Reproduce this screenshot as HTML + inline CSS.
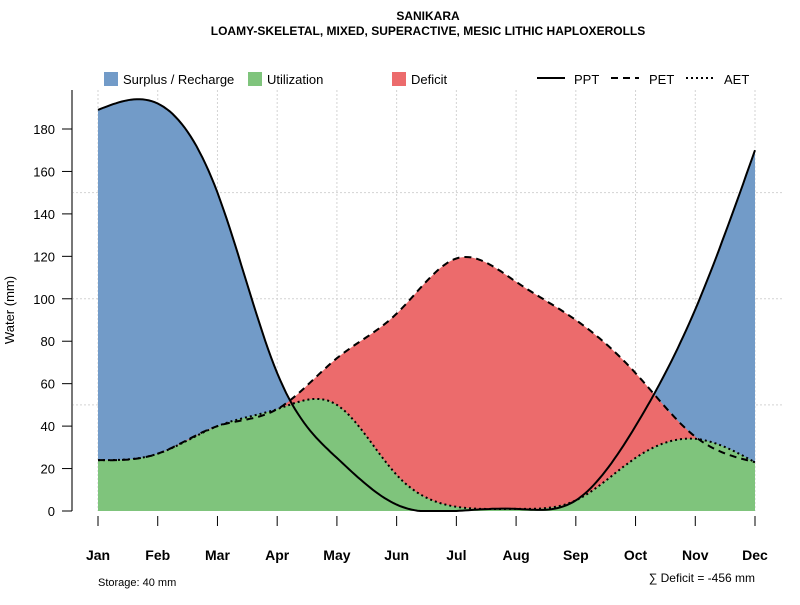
<!DOCTYPE html>
<html><head><meta charset="utf-8"><style>
body{margin:0;background:#fff;}
text{font-family:"Liberation Sans",sans-serif;}
</style></head><body>
<svg id="c" width="800" height="600" xmlns="http://www.w3.org/2000/svg">
<text x="428" y="20" text-anchor="middle" font-size="12" font-weight="bold">SANIKARA</text>
<text x="428" y="35" text-anchor="middle" font-size="12" font-weight="bold">LOAMY-SKELETAL, MIXED, SUPERACTIVE, MESIC LITHIC HAPLOXEROLLS</text>
<g id="legend">
<rect x="104" y="72" width="14" height="14" fill="#729bc8"/>
<text x="123" y="84" font-size="13">Surplus / Recharge</text>
<rect x="248" y="72" width="14" height="14" fill="#7fc47c"/>
<text x="267" y="84" font-size="13">Utilization</text>
<rect x="392" y="72" width="14" height="14" fill="#ec6b6c"/>
<text x="411" y="84" font-size="13">Deficit</text>
<line x1="537" y1="78" x2="565" y2="78" stroke="#000" stroke-width="2"/>
<text x="574" y="84" font-size="13">PPT</text>
<line x1="611" y1="78" x2="639" y2="78" stroke="#000" stroke-width="2" stroke-dasharray="7,5"/>
<text x="649" y="84" font-size="13">PET</text>
<line x1="686" y1="78" x2="714" y2="78" stroke="#000" stroke-width="2" stroke-dasharray="2,3"/>
<text x="724" y="84" font-size="13">AET</text>
</g>
<text transform="translate(14,310) rotate(-90)" text-anchor="middle" font-size="13">Water (mm)</text>
<text x="98" y="586" font-size="11">Storage: 40 mm</text>
<text x="755" y="582" text-anchor="end" font-size="12">∑ Deficit = -456 mm</text>
</svg>
<script>
const months=["Jan","Feb","Mar","Apr","May","Jun","Jul","Aug","Sep","Oct","Nov","Dec"];
const ppt=[189,192,150,65,25,3,0,1,5,40,95,170];
const pet=[24,27,40,48,72,93,119,108,90,65,35,23];
const aet=[24,27,40,48,50,17,2,1,5,25,34,23];
const yTicks=[0,20,40,60,80,100,120,140,160,180];
const gridY=[50,100,150];
const svg=document.getElementById('c');
const NS='http://www.w3.org/2000/svg';
const X=i=>98+i*(755-98)/11;
const Y=v=>511-v*(382/180);
function mk(t,a){const e=document.createElementNS(NS,t);for(const k in a)e.setAttribute(k,a[k]);svg.appendChild(e);return e;}
function spline(ys){const n=ys.length,h=1;const a=ys.slice(),c=new Array(n).fill(0);
 const al=new Array(n).fill(0),l=new Array(n).fill(1),mu=new Array(n).fill(0),z=new Array(n).fill(0);
 for(let i=1;i<n-1;i++)al[i]=3*(a[i+1]-2*a[i]+a[i-1]);
 for(let i=1;i<n-1;i++){l[i]=4-mu[i-1];mu[i]=1/l[i];z[i]=(al[i]-z[i-1])/l[i];}
 const b=new Array(n).fill(0),d=new Array(n).fill(0);
 for(let j=n-2;j>=0;j--){c[j]=z[j]-mu[j]*c[j+1];b[j]=(a[j+1]-a[j])-(c[j+1]+2*c[j])/3;d[j]=(c[j+1]-c[j])/3;}
 const pts=[];for(let j=0;j<n-1;j++)for(let k=0;k<20;k++){const t=k/20;pts.push([j+t,Math.max(0,a[j]+b[j]*t+c[j]*t*t+d[j]*t*t*t)]);}
 pts.push([n-1,a[n-1]]);return pts;}
const sP=spline(ppt),sE=spline(pet),sA=spline(aet);
const line=p=>p.map((q,i)=>(i?'L':'M')+X(q[0]).toFixed(1)+','+Y(q[1]).toFixed(1)).join('');
const area=p=>line(p)+'L'+X(11)+','+Y(0)+'L'+X(0)+','+Y(0)+'Z';
// grid
months.forEach((m,i)=>{let g=mk('line',{x1:X(i),x2:X(i),y1:90,y2:511,stroke:'#d3d3d3','stroke-dasharray':'2,2'});
});
gridY.forEach(v=>{let g=mk('line',{x1:72,x2:782,y1:Y(v),y2:Y(v),stroke:'#d3d3d3','stroke-dasharray':'2,2'});
});
let e;
e=mk('path',{d:area(sP),fill:'#729bc8'});
e=mk('path',{d:area(sE),fill:'#ec6b6c'});
e=mk('path',{d:area(sA),fill:'#7fc47c'});
e=mk('path',{d:line(sP),fill:'none',stroke:'#000','stroke-width':2});
e=mk('path',{d:line(sE),fill:'none',stroke:'#000','stroke-width':2,'stroke-dasharray':'7,5'});
e=mk('path',{d:line(sA),fill:'none',stroke:'#000','stroke-width':2,'stroke-dasharray':'2,3'});
// y axis
e=mk('line',{x1:72,x2:72,y1:90,y2:511,stroke:'#777','stroke-width':2});
yTicks.forEach(v=>{let t=mk('line',{x1:62,x2:72,y1:Y(v),y2:Y(v),stroke:'#000'});

let l=mk('text',{x:55,y:Y(v)+5,'text-anchor':'end','font-size':13});l.textContent=v;
});
// x axis
months.forEach((m,i)=>{let t=mk('line',{x1:X(i),x2:X(i),y1:516,y2:526,stroke:'#000'});

let l=mk('text',{x:X(i),y:560,'text-anchor':'middle','font-size':14,'font-weight':'bold'});l.textContent=m;
});
</script>
</body></html>
